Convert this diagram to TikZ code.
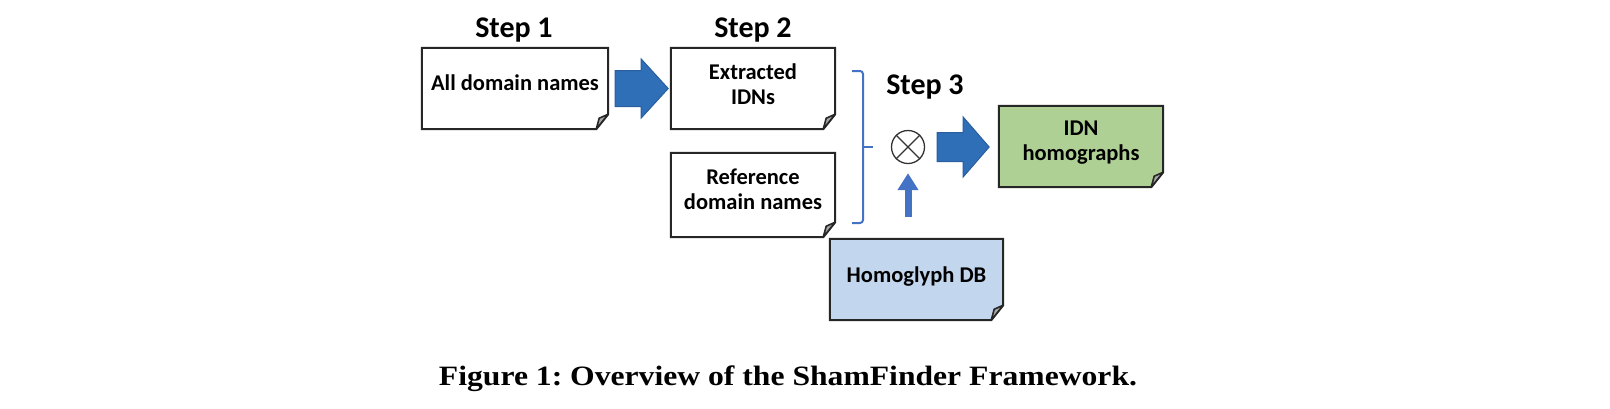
\documentclass[tikz,border=0pt]{standalone}
\usepackage{fontspec}
\usepackage{graphicx}
\setmainfont{Carlito}
\newfontfamily\capfont{Liberation Serif}
\usetikzlibrary{calc,arrows.meta}
\definecolor{bigblue}{HTML}{2E6FB7}
\definecolor{bigblueedge}{HTML}{2A5E9E}
\definecolor{smallblue}{HTML}{4472C4}
\definecolor{notegreen}{HTML}{AFD094}
\definecolor{noteblue}{HTML}{C2D6EE}
\definecolor{foldgray}{HTML}{A8A8A8}
\definecolor{otgray}{HTML}{333333}
\frenchspacing
\tikzset{
  box/.style={inner sep=0pt, draw=none},
  noteline/.style={line width=2pt, draw=black!85, line join=miter},
  txt/.style={font=\bfseries\fontsize{22.5}{25}\selectfont, inner sep=0pt, align=center, anchor=base},
  steptxt/.style={font=\bfseries\fontsize{30}{34}\selectfont, inner sep=0pt, anchor=base},
  bigarrow/.style={fill=bigblue, draw=bigblueedge, line width=1pt, line join=miter},
  bracestyle/.style={draw=smallblue, line width=2pt, rounded corners=3pt},
}
\newcommand\notebox[2]{%
  \draw[noteline, fill=#2] (#1.north west) -- (#1.north east) -- ([yshift=15pt]#1.south east) -- ([xshift=-12pt]#1.south east) -- (#1.south west) -- cycle;
  \filldraw[noteline, line width=1.6pt, fill=foldgray, line join=round] ([yshift=15pt]#1.south east) .. controls ([xshift=-4pt,yshift=13pt]#1.south east) .. ([xshift=-9pt,yshift=11pt]#1.south east) -- ([xshift=-12pt]#1.south east) -- cycle;
}
\begin{document}
\begin{tikzpicture}[x=1pt,y=-1pt]
\useasboundingbox (0,0) rectangle (1610,408);
% boxes
\node[box, minimum width=186pt, minimum height=81pt] (b1) at (515,88.5) {};
\node[box, minimum width=164pt, minimum height=81pt] (b2) at (753,88.5) {};
\node[box, minimum width=164pt, minimum height=84pt] (b3) at (753,195) {};
\node[box, minimum width=164pt, minimum height=81pt] (b4) at (1081,146.5) {};
\node[box, minimum width=173pt, minimum height=81pt] (b5) at (916.5,279.5) {};
\notebox{b1}{white}
\notebox{b2}{white}
\notebox{b3}{white}
\notebox{b4}{notegreen}
\notebox{b5}{noteblue}
% texts
\node[txt] (t1) at (515,90) {All domain names};
\node[txt] (t2) at (753,104) {Extracted\\IDNs};
\node[txt] (t3) at (753,209) {Reference\\domain names};
\node[txt] (t4) at (1081,160) {IDN\\homographs};
\node[txt] (t5) at (916.5,282) {Homoglyph DB};
% step labels
\node[steptxt] (s1) at (514,37) {Step 1};
\node[steptxt] (s2) at (753,37) {Step 2};
\node[steptxt] (s3) at (925,94) {Step 3};
% otimes
\node[circle, draw=otgray, line width=1.3pt, minimum size=33pt, inner sep=0pt] (ot) at (908,147) {};
\draw[otgray, line width=1.3pt] (ot.45) -- (ot.225) (ot.135) -- (ot.315);
% brace
\coordinate (brt) at (852,71);
\coordinate (brb) at (852,223);
\coordinate (brm) at (873,147);
\draw[bracestyle] (brt) -- ++(11,0) -- ++(0,152) -- ++(-11,0);
\draw[bracestyle, rounded corners=0pt] (863,147) -- (brm);
% big arrow 1
\draw[bigarrow] ([xshift=7pt]b1.east) ++(0,-18) -- ++(26,0) -- ++(0,-11.5) -- ++(27,29.5) -- ++(-27,29.5) -- ++(0,-11.5) -- ++(-26,0) -- cycle;
% big arrow 2
\draw[bigarrow] ([xshift=12pt]ot.east) ++(0,-14.5) -- ++(26,0) -- ++(0,-15.5) -- ++(26,30) -- ++(-26,30) -- ++(0,-15.5) -- ++(-26,0) -- cycle;
% small arrow
\coordinate (tail) at ($(ot.south |- b5.north)+(0,-22)$);
\coordinate (tip) at ($(ot.south)+(0,9)$);
\draw[smallblue, line width=7pt, -{Triangle[width=20pt,length=17pt]}] (tail) -- (tip);
% caption
\node[anchor=base, inner sep=0pt] (cap) at (788,385) {\resizebox{698pt}{\height}{\capfont\bfseries\fontsize{28}{32}\selectfont Figure 1: Overview of the ShamFinder Framework.}};
\end{tikzpicture}
\end{document}
